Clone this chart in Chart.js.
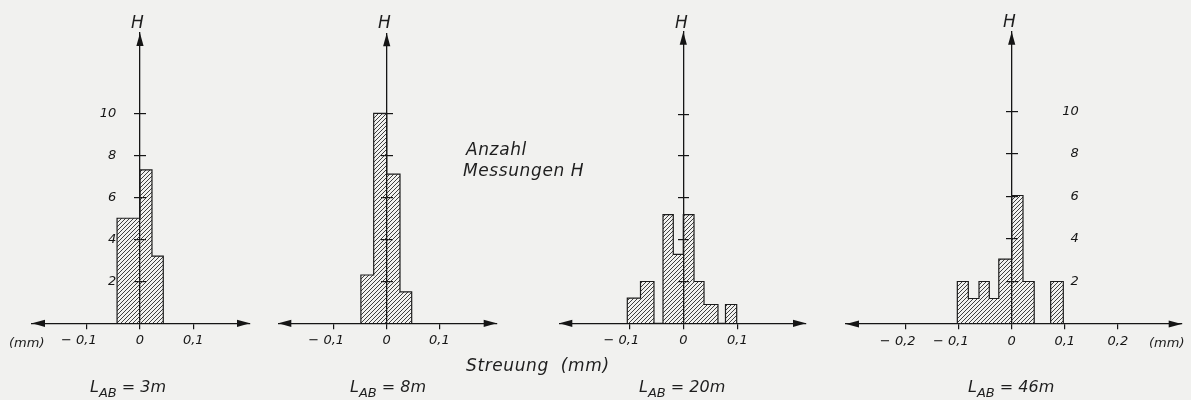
<!DOCTYPE html>
<html><head><meta charset="utf-8">
<script src="https://cdn.jsdelivr.net/npm/chart.js@4.4.1/dist/chart.umd.min.js"></script>
<style>
html,body{margin:0;padding:0;background:#f1f1ef;}
#wrap{position:relative;width:1191px;height:400px;overflow:hidden;background:#f1f1ef;}
canvas{position:absolute;left:0;top:0;}
.t{position:absolute;font-family:"DejaVu Sans",sans-serif;font-style:italic;color:#1e1e1e;line-height:1;white-space:pre;}
.t sub{font-size:13px;vertical-align:-5px;line-height:1;}
</style></head><body>
<div id="wrap">
<canvas id="c1" width="1191" height="400"></canvas>
<canvas id="c2" width="1191" height="400"></canvas>
<canvas id="c3" width="1191" height="400"></canvas>
<canvas id="c4" width="1191" height="400"></canvas>
<div class="t" style="left:131px;top:13.6px;font-size:17px">H</div>
<div class="t" style="left:378px;top:13.6px;font-size:17px">H</div>
<div class="t" style="left:675px;top:13.6px;font-size:17px">H</div>
<div class="t" style="left:1003px;top:12.6px;font-size:17px">H</div>
<div class="t" style="left:466px;top:140.6px;font-size:17px;letter-spacing:0.6px">Anzahl</div>
<div class="t" style="left:463px;top:162.3px;font-size:17px;letter-spacing:0.6px">Messungen H</div>
<div class="t" style="left:466px;top:356.6px;font-size:17px;letter-spacing:0.6px">Streuung  (mm)</div>
<div class="t" style="left:9px;top:335.7px;font-size:13px">(mm)</div>
<div class="t" style="left:1149px;top:335.7px;font-size:13px">(mm)</div>
<div class="t" style="left:90px;top:378.5px;font-size:16px">L<sub>AB</sub> = 3m</div>
<div class="t" style="left:350px;top:378.5px;font-size:16px">L<sub>AB</sub> = 8m</div>
<div class="t" style="left:639px;top:378.5px;font-size:16px">L<sub>AB</sub> = 20m</div>
<div class="t" style="left:968px;top:378.5px;font-size:16px">L<sub>AB</sub> = 46m</div>
</div>
<script>
// ---------- data ----------
const xTicksNarrow = [-0.1, 0, 0.1];
const xTickLabelsNarrow = ['− 0,1', '0', '0,1'];
const xTicksWide = [-0.2, -0.1, 0, 0.1, 0.2];
const xTickLabelsWide = ['− 0,2', '− 0,1', '0', '0,1', '0,2'];
const yTicks = [2, 4, 6, 8, 10];
const yTickLabels = ['2', '4', '6', '8', '10'];

// bin edges in mm, counts H per bin
const edges3m  = [-0.043, 0, 0.0225, 0.0437];
const counts3m = [5.0, 7.3, 3.2];
const edges8m  = [-0.049, -0.0247, 0, 0.0252, 0.0474];
const counts8m = [2.3, 10.0, 7.1, 1.5];
const edges20m  = [-0.1035, -0.0791, -0.0542, -0.0375, -0.0185, 0, 0.0198, 0.0383, 0.0641, 0.078, 0.0987];
const counts20m = [1.2, 2.0, 0, 5.2, 3.3, 5.2, 2.0, 0.9, 0, 0.9];
const edges46m  = [-0.1024, -0.0817, -0.0616, -0.0422, -0.0243, 0, 0.0213, 0.0424, 0.0734, 0.0972];
const counts46m = [2, 1.2, 2, 1.2, 3.05, 6.05, 2, 0, 2];

// ---------- layout of the four panels ----------
// yLabAt: x value (mm) where the right edge of the H tick labels sits (null = no labels)
const panels = [
  {id:'c1', edges:edges3m,  counts:counts3m,  xt:xTicksNarrow, xl:xTickLabelsNarrow, pad:{left:32, right:941, top:33, bottom:76.7}, xr:[-0.2026, 0.2064], yMax:13.82, yLabAt:-0.0445},
  {id:'c2', edges:edges8m,  counts:counts8m,  xt:xTicksNarrow, xl:xTickLabelsNarrow, pad:{left:278.3, right:694.3, top:33.3, bottom:76.7}, xr:[-0.2057, 0.2087], yMax:13.81, yLabAt:null},
  {id:'c3', edges:edges20m, counts:counts20m, xt:xTicksNarrow, xl:xTickLabelsNarrow, pad:{left:559.3, right:385, top:31.7, bottom:76.7}, xr:[-0.2292, 0.2268], yMax:13.95, yLabAt:null},
  {id:'c4', edges:edges46m, counts:counts46m, xt:xTicksWide,   xl:xTickLabelsWide,   pad:{left:846, right:9.3, top:31.7, bottom:76}, xr:[-0.3121, 0.3202], yMax:13.76, yLabAt:0.1265}
];

// hatch pattern
function hatch(){
  const t = document.createElement('canvas'); t.width = 4; t.height = 4;
  const c = t.getContext('2d');
  c.strokeStyle = '#2a2a2a'; c.lineWidth = 0.9;
  c.beginPath();
  c.moveTo(-1, 5); c.lineTo(5, -1);
  c.moveTo(-1, 1); c.lineTo(1, -1);
  c.moveTo(3, 5); c.lineTo(5, 3);
  c.stroke();
  return c.createPattern(t, 'repeat');
}

function stepPoints(edges, counts){
  const pts = [{x: edges[0], y: 0}];
  counts.forEach((c, i) => pts.push({x: edges[i + 1], y: c}));
  pts.push({x: edges[edges.length - 1], y: 0});
  return pts;
}

function tri(ctx, tx, ty, dx, dy){
  const L = 13, W = 3.6;
  const bx = tx - dx * L, by = ty - dy * L, px = -dy, py = dx;
  ctx.beginPath(); ctx.moveTo(tx, ty);
  ctx.lineTo(bx + px * W, by + py * W); ctx.lineTo(bx - px * W, by - py * W);
  ctx.closePath(); ctx.fill();
}
const arrows = {
  id: 'arrows',
  afterDraw(chart){
    const {ctx, chartArea: a, scales: {x, y}} = chart;
    const y0 = y.getPixelForValue(0), x0 = x.getPixelForValue(0);
    ctx.save(); ctx.fillStyle = '#151515';
    tri(ctx, a.left, y0, -1, 0);
    tri(ctx, a.right, y0, 1, 0);
    tri(ctx, x0, a.top, 0, -1);
    ctx.restore();
  }
};

const tickFont = {family: '"DejaVu Sans", sans-serif', style: 'italic', size: 13};
const ink = '#151515';

panels.forEach(p => {
  const pattern = hatch();
  const labelFor = (v) => {
    const i = p.xt.findIndex(t => Math.abs(t - v) < 1e-9);
    const s = i >= 0 ? p.xl[i] : '';
    return v < 0 ? s + '\u2003\u2009' : s;
  };
  const yTickSetter = s => { s.ticks = yTicks.map(v => ({value: v})); };
  const scales = {
    x: {
      type: 'linear', position: {y: 0}, min: p.xr[0], max: p.xr[1], z: 1,
      afterBuildTicks: s => { s.ticks = p.xt.map(v => ({value: v})); },
      afterFit: s => { s.height = 0; },
      ticks: {autoSkip: false, maxRotation: 0, minRotation: 0, padding: 5, color: ink, font: tickFont, callback: v => labelFor(v)},
      grid: {drawOnChartArea: false, drawTicks: true, tickLength: 5, color: ink, lineWidth: 1.2},
      border: {display: true, color: ink, width: 1.3}
    },
    y: {
      type: 'linear', position: {x: 0}, min: 0, max: p.yMax, z: 1,
      afterBuildTicks: yTickSetter,
      afterFit: s => { s.width = 0; },
      ticks: {display: false},
      grid: {drawOnChartArea: false, drawTicks: true, tickLength: 5, color: ink, lineWidth: 1.2},
      border: {display: true, color: ink, width: 1.3}
    },
    y2: {
      axis: 'y', type: 'linear', position: {x: 0}, min: 0, max: p.yMax, z: 1,
      afterBuildTicks: yTickSetter,
      afterFit: s => { s.width = 0; },
      ticks: {display: false},
      grid: {drawOnChartArea: false, drawTicks: true, tickLength: -6, color: ink, lineWidth: 1.2},
      border: {display: false}
    }
  };
  if (p.yLabAt !== null) {
    scales.yl = {
      axis: 'y', type: 'linear', position: {x: p.yLabAt}, min: 0, max: p.yMax, z: 1,
      afterBuildTicks: yTickSetter,
      afterFit: s => { s.width = 0; },
      ticks: {display: true, color: ink, font: tickFont, callback: v => yTickLabels[yTicks.indexOf(v)]},
      grid: {display: true, drawOnChartArea: false, drawTicks: false, color: 'rgba(0,0,0,0)'},
      border: {display: false}
    };
  }
  new Chart(document.getElementById(p.id), {
    type: 'line',
    data: {datasets: [{
      data: stepPoints(p.edges, p.counts),
      stepped: 'after',
      fill: 'origin',
      backgroundColor: pattern,
      borderColor: '#1c1c1c',
      borderWidth: 1.2,
      pointRadius: 0,
      tension: 0
    }]},
    options: {
      responsive: false, animation: false, devicePixelRatio: 1, events: [],
      layout: {padding: p.pad},
      plugins: {legend: {display: false}, tooltip: {enabled: false}},
      scales
    },
    plugins: [arrows]
  });
});
</script>
</body></html>
